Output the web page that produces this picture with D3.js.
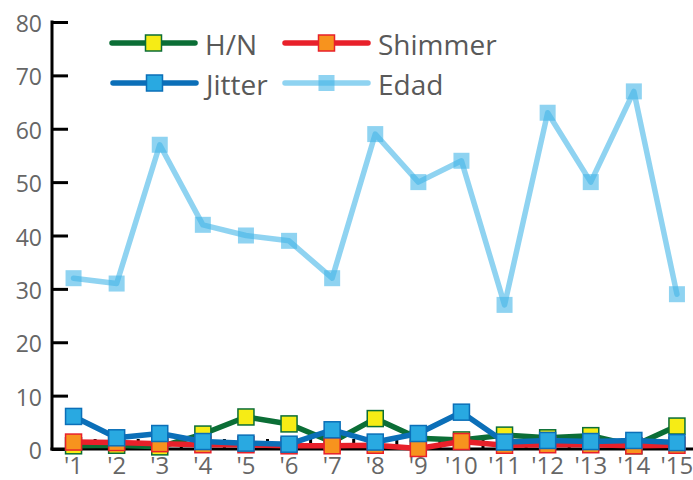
<!DOCTYPE html>
<html><head><meta charset="utf-8">
<script src="https://cdn.jsdelivr.net/npm/d3@7"></script>
<style>html,body{margin:0;padding:0;background:#fff;}svg{display:block;}</style>
</head><body><svg id="c" width="693" height="480"></svg>
<script>
const categories = ["'1","'2","'3","'4","'5","'6","'7","'8","'9","'10","'11","'12","'13","'14","'15"];
const hn      = [0.6, 0.7, 0.4, 2.8, 6.0, 4.7, 1.3, 5.7, 2.0, 1.7, 2.6, 2.1, 2.5, 0.6, 4.3];
const shimmer = [1.3, 1.2, 1.0, 0.8, 0.8, 0.6, 0.6, 0.7, 0.1, 1.4, 0.7, 0.8, 0.8, 0.6, 0.7];
const jitter  = [6.1, 2.1, 2.9, 1.4, 1.1, 0.9, 3.6, 1.3, 2.9, 6.9, 1.3, 1.6, 1.4, 1.6, 1.2];
const edad    = [32, 31, 57, 42, 40, 39, 32, 59, 50, 54, 27, 63, 50, 67, 29];
const yTicks  = [0, 10, 20, 30, 40, 50, 60, 70, 80];

const series = [
  {name:"H/N", values:hn, line:"#0b6e36", fill:"#f6ec15", stroke:"#0b6e36", op:1},
  {name:"Shimmer", values:shimmer, line:"#e8202a", fill:"#f7931e", stroke:"#e8202a", op:1},
  {name:"Jitter", values:jitter, line:"#0b6fb8", fill:"#29a9e1", stroke:"#0b6fb8", op:1},
  {name:"Edad", values:edad, line:"#45b5e8", fill:"#45b5e8", stroke:"none", op:0.6}
];

const svg = d3.select("#c");
const font = "'Open Sans', sans-serif";
const x = d3.scaleBand().domain(categories).range([52, 698.5]).padding(0);
const y = d3.scaleLinear().domain([0, 80]).range([449, 22]);
const cx = c => x(c) + x.bandwidth()/2;

// y axis
const ya = svg.append("g").attr("transform","translate(52,0)")
  .call(d3.axisRight(y).tickValues(yTicks).tickSize(16).tickFormat(""));
ya.select(".domain").remove();
ya.selectAll(".tick line").attr("stroke","#000").attr("stroke-width",3);
svg.append("line").attr("x1",52).attr("x2",52).attr("y1",y(80)-1.5).attr("y2",y(0)+1.5)
  .attr("stroke","#000").attr("stroke-width",3);
svg.append("g").selectAll("text").data(yTicks).join("text")
  .attr("x",42).attr("y",d=>y(d)+2).attr("dy","0.35em").attr("text-anchor","end")
  .attr("font-family",font).attr("font-size",23).attr("fill","#666").text(d=>d);

// x axis minor ticks at boundaries
const bounds = categories.slice(1).map(c => x(c));
svg.append("g").selectAll("line").data(bounds).join("line")
  .attr("x1",d=>d).attr("x2",d=>d).attr("y1",y(0)).attr("y2",y(0)-10)
  .attr("stroke","#000").attr("stroke-width",3);
svg.append("line").attr("x1",50.5).attr("x2",693).attr("y1",y(0)).attr("y2",y(0))
  .attr("stroke","#000").attr("stroke-width",3);
svg.append("g").selectAll("text").data(categories).join("text")
  .attr("x",d=>cx(d)).attr("y",473.5).attr("text-anchor","middle")
  .attr("font-family",font).attr("font-size",24).attr("fill","#666").text(d=>d);

// series
const line = d3.line().x((d,i)=>cx(categories[i])).y(d=>y(d));
const M = 16;
series.forEach(s => {
  const g = svg.append("g");
  g.append("path").attr("d", line(s.values)).attr("fill","none")
    .attr("stroke", s.line).attr("stroke-width", 5.5).attr("stroke-linejoin","round")
    .attr("stroke-linecap","round").attr("stroke-opacity", s.op);
  g.selectAll("rect").data(s.values).join("rect")
    .attr("x",(d,i)=>cx(categories[i])-M/2).attr("y",d=>y(d)-M/2)
    .attr("width",M).attr("height",M)
    .attr("fill",s.fill).attr("fill-opacity",s.op)
    .attr("stroke",s.stroke).attr("stroke-width",1.5);
});

// legend
const leg = [
  {s:series[0], x0:112, y0:43},
  {s:series[1], x0:285, y0:43},
  {s:series[2], x0:113, y0:83},
  {s:series[3], x0:285, y0:83}
];
leg.forEach(l => {
  const g = svg.append("g");
  g.append("line").attr("x1",l.x0).attr("x2",l.x0+83).attr("y1",l.y0).attr("y2",l.y0)
    .attr("stroke",l.s.line).attr("stroke-width",5.5).attr("stroke-linecap","round")
    .attr("stroke-opacity",l.s.op);
  g.append("rect").attr("x",l.x0+41.5-M/2).attr("y",l.y0-M/2).attr("width",M).attr("height",M)
    .attr("fill",l.s.fill).attr("fill-opacity",l.s.op).attr("stroke",l.s.stroke).attr("stroke-width",1.5);
  g.append("text").attr("x",l.x0+93).attr("y",l.y0+12).attr("font-family",font)
    .attr("font-size",28).attr("fill","#595959").text(l.s.name);
});
</script></body></html>
